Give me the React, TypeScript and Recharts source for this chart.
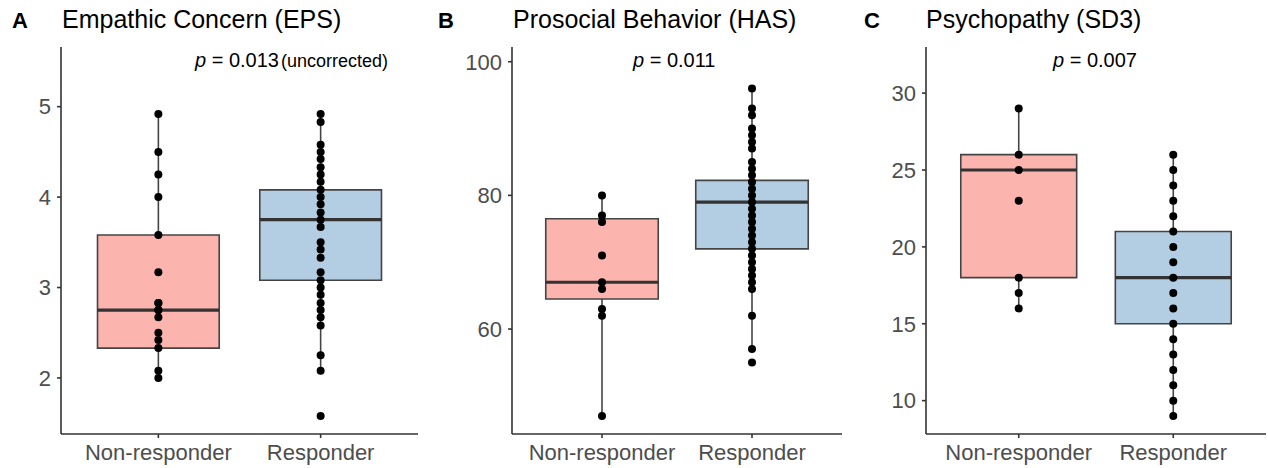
import React from 'react'
import { ComposedChart, XAxis, YAxis, Scatter, ReferenceArea, ReferenceLine } from 'recharts'

const categories = ['Non-responder', 'Responder']

// box stats: [whisker low, q1, median, q3, whisker high]
const epsNon = [4.92, 4.5, 4.25, 4.0, 3.58, 3.17, 2.83, 2.83, 2.75, 2.75, 2.67, 2.5, 2.42, 2.33, 2.08, 2.0]
const epsResp = [4.92, 4.83, 4.58, 4.5, 4.42, 4.33, 4.25, 4.17, 4.08, 4.0, 3.92, 3.83, 3.75, 3.67, 3.5, 3.42, 3.33, 3.17, 3.08, 3.0, 2.92, 2.83, 2.75, 2.67, 2.58, 2.25, 2.08, 1.58]
const epsBoxNon = [2.0, 2.33, 2.75, 3.58, 4.92]
const epsBoxResp = [2.08, 3.08, 3.75, 4.08, 4.92]
const epsTicks = [2, 3, 4, 5]

const hasNon = [80, 77, 76, 71, 67, 66, 63, 62, 47]
const hasResp = [96, 93, 92, 90, 89, 88, 87, 85, 84, 83, 82, 81, 80, 79, 78, 77, 76, 75, 74, 73, 72, 71, 70, 69, 68, 67, 66, 62, 57, 55]
const hasBoxNon = [47, 64.5, 67, 76.5, 80]
const hasBoxResp = [57, 72, 79, 82.25, 96]
const hasTicks = [60, 80, 100]

const sd3Non = [29, 26, 25, 23, 18, 17, 16]
const sd3Resp = [26, 25, 24, 23, 22, 21, 20, 19, 18, 17, 16, 15, 14, 13, 12, 11, 10, 9]
const sd3BoxNon = [16, 18, 25, 26, 29]
const sd3BoxResp = [9, 15, 18, 21, 26]
const sd3Ticks = [10, 15, 20, 25, 30]

const FILLS = ['#FBB4AE', '#B3CDE3']
const FONT = '"Liberation Sans", Arial, sans-serif'
const tickStyle = { fill: '#4D4D4D', fontSize: 22, fontFamily: FONT }
const axisStroke = { stroke: '#333', strokeWidth: 1.6 }
const HALF = 0.375

const panels = [
  { left: 1, width: 419, domain: [1.38, 5.66], ticks: epsTicks, points: [epsNon, epsResp], boxes: [epsBoxNon, epsBoxResp] },
  { left: 452, width: 392, domain: [44.3, 102.2], ticks: hasTicks, points: [hasNon, hasResp], boxes: [hasBoxNon, hasBoxResp] },
  { left: 866, width: 402, domain: [7.83, 33.0], ticks: sd3Ticks, points: [sd3Non, sd3Resp], boxes: [sd3BoxNon, sd3BoxResp] },
]

const Dot = (p: any) => <circle cx={p.cx} cy={p.cy} r={4} fill="#000" />

function Panel({ cfg }: { cfg: (typeof panels)[number] }) {
  return (
    <div style={{ position: 'absolute', left: cfg.left, top: 0 }}>
      <ComposedChart width={cfg.width} height={468} margin={{ top: 47, right: 2, bottom: 0, left: 0 }}>
        <XAxis
          type="number"
          dataKey="x"
          domain={[-0.6, 1.6]}
          ticks={[0, 1]}
          tickFormatter={(v) => categories[v]}
          allowDataOverflow
          height={34}
          tick={tickStyle}
          tickSize={4}
          tickMargin={6}
          axisLine={axisStroke}
          tickLine={axisStroke}
        />
        <YAxis
          type="number"
          dataKey="y"
          domain={cfg.domain}
          ticks={cfg.ticks}
          allowDataOverflow
          width={60}
          tick={tickStyle}
          tickSize={4}
          tickMargin={6}
          axisLine={axisStroke}
          tickLine={axisStroke}
        />
        {cfg.boxes.map((b, i) => (
          <ReferenceLine key={'wl' + i} segment={[{ x: i, y: b[0] }, { x: i, y: b[1] }]} stroke="#444" strokeWidth={1.6} ifOverflow="visible" />
        ))}
        {cfg.boxes.map((b, i) => (
          <ReferenceLine key={'wh' + i} segment={[{ x: i, y: b[3] }, { x: i, y: b[4] }]} stroke="#444" strokeWidth={1.6} ifOverflow="visible" />
        ))}
        {cfg.boxes.map((b, i) => (
          <ReferenceArea key={'b' + i} x1={i - HALF} x2={i + HALF} y1={b[1]} y2={b[3]} fill={FILLS[i]} fillOpacity={1} stroke="#444" strokeWidth={1.6} ifOverflow="visible" />
        ))}
        {cfg.boxes.map((b, i) => (
          <ReferenceLine key={'m' + i} segment={[{ x: i - HALF, y: b[2] }, { x: i + HALF, y: b[2] }]} stroke="#333" strokeWidth={3.2} ifOverflow="visible" />
        ))}
        {cfg.points.map((vals, i) => (
          <Scatter key={'s' + i} data={vals.map((v) => ({ x: i, y: v }))} shape={Dot} isAnimationActive={false} />
        ))}
      </ComposedChart>
    </div>
  )
}

const titles = [
  { tag: 'A', tagX: 12, x: 62, text: 'Empathic Concern (EPS)', pX: 195, p: '0.013', note: '(uncorrected)' },
  { tag: 'B', tagX: 438, x: 513, text: 'Prosocial Behavior (HAS)', pX: 633, p: '0.011', note: '' },
  { tag: 'C', tagX: 864, x: 926, text: 'Psychopathy (SD3)', pX: 1053, p: '0.007', note: '' },
]

export default function App() {
  return (
    <div style={{ position: 'absolute', left: 0, top: 0, width: 1268, height: 468, background: '#fff', overflow: 'hidden', fontFamily: FONT }}>
      {panels.map((cfg, i) => (
        <Panel key={i} cfg={cfg} />
      ))}
      <svg width={1268} height={468} style={{ position: 'absolute', left: 0, top: 0, pointerEvents: 'none' }}>
        {titles.map((t) => (
          <g key={t.tag} fontFamily={FONT}>
            <text x={t.tagX} y={28} fontSize={22} fontWeight="bold" fill="#000">{t.tag}</text>
            <text x={t.x} y={28} fontSize={25} fill="#000">{t.text}</text>
            <text x={t.pX} y={67} fontSize={20} fill="#000">
              <tspan fontStyle="italic">p</tspan>
              <tspan> = {t.p}</tspan>
              {t.note && <tspan dx={2} fontSize={18}>{t.note}</tspan>}
            </text>
          </g>
        ))}
      </svg>
    </div>
  )
}
